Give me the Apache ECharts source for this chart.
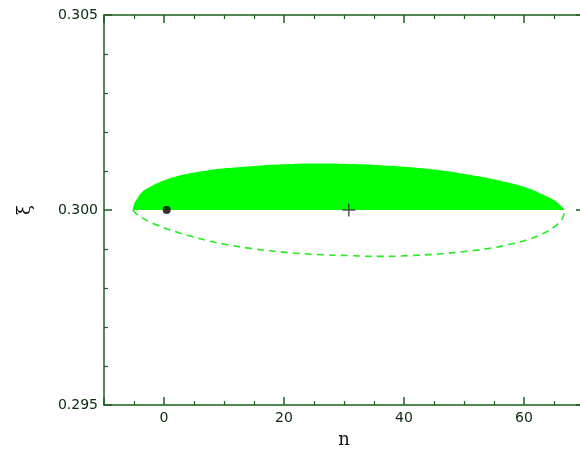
<!DOCTYPE html>
<html>
<head>
<meta charset="utf-8">
<script src="https://cdn.jsdelivr.net/npm/echarts@6/dist/echarts.min.js"></script>
<style>
  html, body { margin: 0; padding: 0; background: #fff; }
  #chart { width: 580px; height: 451px; }
</style>
</head>
<body>
<div id="chart"></div>
<script>
// upper half of the contour (filled)
const upperN  = [-5.2, -5.0, -4.5, -3.72, -2.0, -0.95, 1.83, 4.62, 7.4, 10.17, 15.17, 19.88, 25.45, 31.0, 36.0, 40.72, 46.28, 51.0, 54.33, 57.67, 61.0, 63.22, 64.88, 66.0, 66.8]
const upperXi = [0.30000, 0.30014, 0.30028, 0.30045, 0.30062, 0.30070, 0.30085, 0.30095, 0.30102, 0.30107, 0.30113, 0.30117, 0.30119, 0.30118, 0.30115, 0.30110, 0.30101, 0.30090, 0.30081, 0.30069, 0.30054, 0.30039, 0.30026, 0.30013, 0.30000]

// lower half of the contour (dashed)
const lowerN  = [-5.2, -4.5, -3.4, -2.0, -0.95, 1.83, 4.62, 7.38, 10.17, 15.17, 19.88, 25.45, 31.0, 36.0, 40.72, 46.28, 51.0, 54.33, 57.67, 61.0, 63.22, 64.88, 66.0, 66.5, 66.8]
const lowerXi = [0.30000, 0.29989, 0.29978, 0.29967, 0.29960, 0.29945, 0.29932, 0.29921, 0.29912, 0.29900, 0.29892, 0.29886, 0.29883, 0.29881, 0.29883, 0.29888, 0.29895, 0.29902, 0.29912, 0.29926, 0.29940, 0.29955, 0.29970, 0.29982, 0.30000]

const dotPoint = [0.45, 0.300]
const crossPoint = [30.8, 0.300]

const xRange = [-10, 70]
const yRange = [0.295, 0.305]
const yStep = 0.005

const axisGreen = '#1d5e1d'
const labelColor = '#0a2a0a'

const chart = echarts.init(document.getElementById('chart'))

const baseX = {
  type: 'value',
  min: xRange[0],
  max: xRange[1],
  splitNumber: 4,
  axisLine: { onZero: false, lineStyle: { color: axisGreen, width: 1.5 } },
  axisTick: { inside: true, length: 8, lineStyle: { color: axisGreen, width: 1.5 } },
  minorTick: { show: true, splitNumber: 4, length: 4, lineStyle: { color: axisGreen, width: 1.2 } },
  splitLine: { show: false }
}

const baseY = {
  type: 'value',
  min: yRange[0],
  max: yRange[1],
  interval: yStep,
  axisLine: { onZero: false, lineStyle: { color: axisGreen, width: 1.5 } },
  axisTick: { inside: true, length: 8, lineStyle: { color: axisGreen, width: 1.5 } },
  minorTick: { show: true, splitNumber: 5, length: 4, lineStyle: { color: axisGreen, width: 1.2 } },
  splitLine: { show: false }
}

const labelFont = {
  color: labelColor,
  fontFamily: 'DejaVu Sans',
  fontSize: 14
}

const option = {
  animation: false,
  backgroundColor: '#fff',
  grid: { left: 104, top: 15, width: 480, height: 390, outerBoundsMode: 'none', containLabel: false },
  xAxis: [
    {
      ...baseX,
      position: 'bottom',
      name: 'n',
      nameLocation: 'middle',
      nameGap: 26,
      nameTextStyle: { fontFamily: 'DejaVu Serif', fontSize: 18, color: '#111' },
      axisLabel: { ...labelFont, margin: 6, showMinLabel: false, showMaxLabel: false }
    },
    {
      ...baseX,
      position: 'top',
      axisLabel: { show: false }
    }
  ],
  yAxis: [
    {
      ...baseY,
      position: 'left',
      name: 'ξ',
      nameLocation: 'middle',
      nameGap: 70,
      nameTextStyle: { fontFamily: 'DejaVu Serif', fontSize: 18, color: '#111' },
      axisLabel: { ...labelFont, margin: 6, formatter: v => v.toFixed(3) }
    },
    {
      ...baseY,
      position: 'right',
      axisLabel: { show: false }
    }
  ],
  series: [
    {
      type: 'line',
      data: upperN.map((n, i) => [n, upperXi[i]]),
      smooth: 0.5,
      showSymbol: false,
      lineStyle: { width: 0 },
      areaStyle: { color: '#00ff00', opacity: 1, origin: 0.3 },
      z: 2
    },
    {
      type: 'line',
      data: lowerN.map((n, i) => [n, lowerXi[i]]),
      smooth: 0.5,
      showSymbol: false,
      lineStyle: { color: '#22ee22', width: 1.6, type: [7, 5] },
      z: 2
    },
    {
      type: 'scatter',
      data: [dotPoint],
      symbol: 'circle',
      symbolSize: 8,
      itemStyle: { color: '#000' },
      z: 5
    },
    {
      type: 'scatter',
      data: [crossPoint],
      symbol: 'path://M0,4.4H4.4V0H5.6V4.4H10V5.6H5.6V10H4.4V5.6H0Z',
      symbolSize: 13,
      itemStyle: { color: '#333' },
      z: 5
    }
  ]
}

chart.setOption(option)
</script>
</body>
</html>
